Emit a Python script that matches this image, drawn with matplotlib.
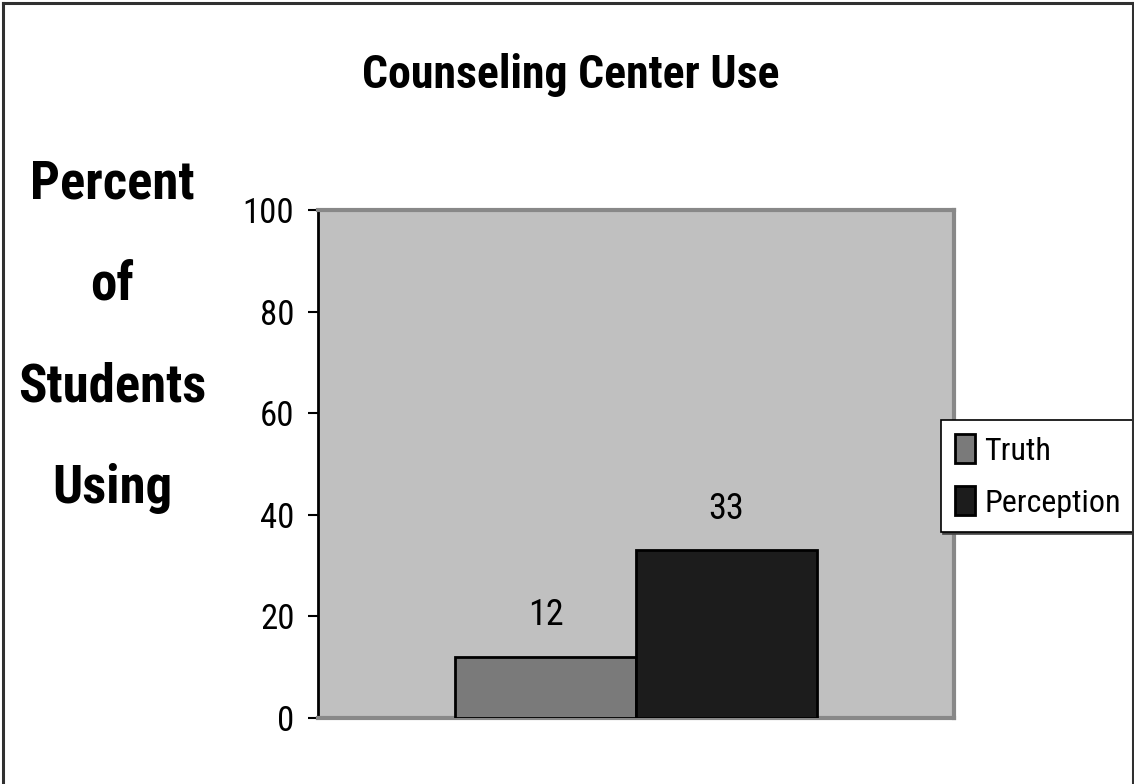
import matplotlib
matplotlib.use("Agg")
import matplotlib.pyplot as plt

# Data
series_names = ["Truth", "Perception"]
series_values = [12, 33]
series_colors = ["#7a7a7a", "#1c1c1c"]
y_ticks = [0, 20, 40, 60, 80, 100]
title = "Counseling Center Use"
y_label_lines = ["Percent", "of", "Students", "Using"]

plt.rcParams["font.family"] = ["Roboto Condensed", "DejaVu Sans"]

W, H = 1134, 784
fig = plt.figure(figsize=(W / 100, H / 100), dpi=100)

# outer frame (left, top, right)
frame_kw = dict(color="#303030", lw=2.2)
fig.add_artist(plt.Line2D([2.5 / W, 2.5 / W], [0, 1 - 2.5 / H], **frame_kw))
fig.add_artist(plt.Line2D([2.5 / W, 1 - 1.5 / W], [1 - 2.5 / H, 1 - 2.5 / H], **frame_kw))
fig.add_artist(plt.Line2D([1 - 1.5 / W, 1 - 1.5 / W], [0, 1 - 2.5 / H], **frame_kw))

left, right, top, bottom = 318, 954, 210, 718
ax = fig.add_axes([left / W, 1 - bottom / H, (right - left) / W, (bottom - top) / H])
ax.set_facecolor("#c0c0c0")

bar_w = 181 / (right - left)
centers = [0.5 - bar_w / 2, 0.5 + bar_w / 2]
for x, v, c, name in zip(centers, series_values, series_colors, series_names):
    ax.bar(x, v, width=bar_w, color=c, edgecolor="black", linewidth=2, label=name, zorder=3)
    ax.annotate(str(v), (x, v), xytext=(0, 30), textcoords="offset points",
                ha="center", va="center", fontsize=26, zorder=4)

ax.set_xlim(0, 1)
ax.set_ylim(0, 100)
ax.set_yticks(y_ticks)
ax.set_yticklabels([str(t) for t in y_ticks], fontsize=25)
ax.set_xticks([])
ax.tick_params(axis="y", direction="out", length=7, width=1.5, pad=10, color="black")
for s in ["top", "right", "bottom"]:
    ax.spines[s].set_color("#888888")
    ax.spines[s].set_linewidth(3)
ax.spines["left"].set_color("black")
ax.spines["left"].set_linewidth(2)

fig.text(571 / W, 1 - 75 / H, title, ha="center", va="center", fontsize=33, fontweight="bold")

for i, line in enumerate(y_label_lines):
    fig.text(112 / W, 1 - (184 + i * 101.5) / H, line, ha="center", va="center",
             fontsize=38, fontweight="bold")

leg = ax.legend(loc="center left", bbox_to_anchor=(941 / W, 1 - 476 / H),
                bbox_transform=fig.transFigure, fontsize=23, frameon=True,
                fancybox=False, shadow={"ox": 1.5, "oy": -1.5, "color": "#444444", "alpha": 1},
                handlelength=0.6, handleheight=1.0,
                handletextpad=0.3, borderpad=0.45, labelspacing=0.65, borderaxespad=0)
frame = leg.get_frame()
frame.set_edgecolor("black")
frame.set_linewidth(1.2)
frame.set_facecolor("white")

fig.savefig("out.png", dpi=100, facecolor="white")
